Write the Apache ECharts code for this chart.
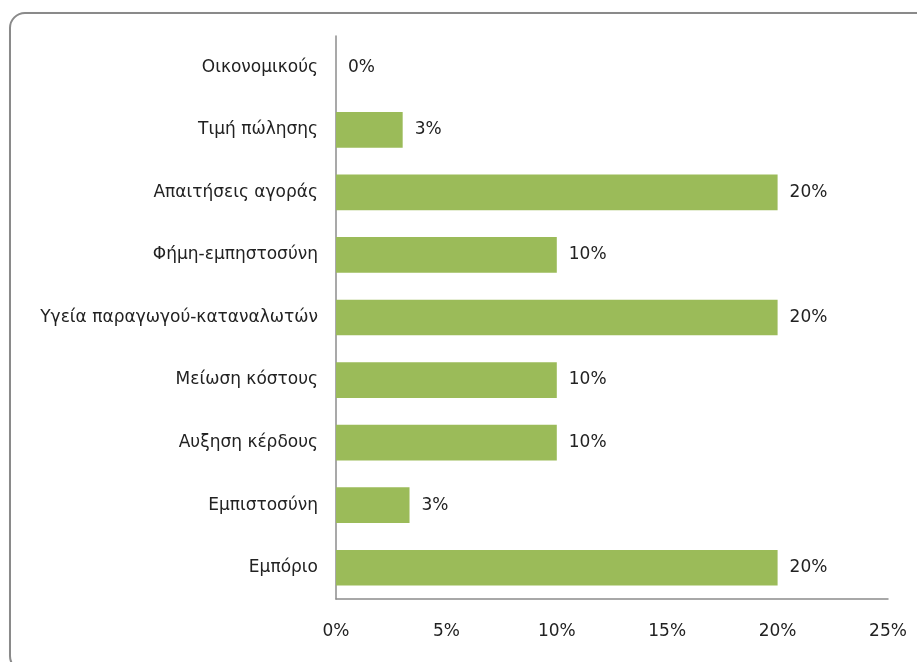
<!DOCTYPE html>
<html>
<head>
<meta charset="utf-8">
<script src="https://cdn.jsdelivr.net/npm/echarts@6/dist/echarts.min.js"></script>
<style>
  html, body { margin: 0; padding: 0; background: #fff; }
  #wrap { position: relative; width: 917px; height: 662px; overflow: hidden; }
  #frame {
    position: absolute; left: 9px; top: 12px; width: 940px; height: 660px;
    border: 2px solid #8a8a8a; border-radius: 16px; box-sizing: border-box;
    box-shadow: 1px 1px 2px rgba(0,0,0,0.2);
  }
  #chart { position: absolute; left: 0; top: 0; width: 917px; height: 662px; }
</style>
</head>
<body>
<div id="wrap">
  <div id="frame"></div>
  <div id="chart"></div>
</div>
<script>
const categories = [
  'Οικονομικούς',
  'Τιμή πώλησης',
  'Απαιτήσεις αγοράς',
  'Φήμη-εμπηστοσύνη',
  'Υγεία παραγωγού-καταναλωτών',
  'Μείωση κόστους',
  'Αυξηση κέρδους',
  'Εμπιστοσύνη',
  'Εμπόριο'
]
const values = [0, 3.02, 20, 10, 20, 10, 10, 3.33, 20]
const axisMax = 25
const axisStep = 5

const chart = echarts.init(document.getElementById('chart'))

const option = {
  animation: false,
  textStyle: { fontFamily: 'DejaVu Sans, sans-serif' },
  grid: {
    left: 336,
    right: 29,
    top: 36,
    bottom: 63,
    containLabel: false
  },
  xAxis: {
    type: 'value',
    min: 0,
    max: axisMax,
    interval: axisStep,
    axisLine: { show: true, lineStyle: { color: '#8c8c8c', width: 1.5 } },
    axisTick: { show: false },
    splitLine: { show: false },
    axisLabel: {
      formatter: '{value}%',
      color: '#222',
      fontSize: 17,
      margin: 24
    }
  },
  yAxis: {
    type: 'category',
    data: categories,
    inverse: true,
    axisLine: { show: true, lineStyle: { color: '#8c8c8c', width: 1.5 } },
    axisTick: { show: false },
    axisLabel: {
      color: '#222',
      fontSize: 17,
      margin: 18
    }
  },
  series: [
    {
      type: 'bar',
      data: values,
      barWidth: '57%',
      itemStyle: { color: '#9bbb59' },
      label: {
        show: true,
        position: 'right',
        distance: 12,
        color: '#222',
        fontSize: 17,
        formatter: p => Math.round(p.value) + '%'
      }
    }
  ]
}

chart.setOption(option)
</script>
</body>
</html>
